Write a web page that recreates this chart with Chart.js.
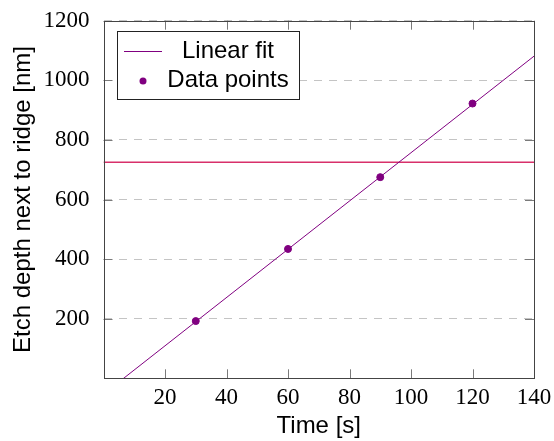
<!DOCTYPE html>
<html>
<head>
<meta charset="utf-8">
<script src="https://cdn.jsdelivr.net/npm/chart.js@4"></script>
<style>
  html, body { margin: 0; padding: 0; background: #fff; }
  #wrap { width: 554px; height: 441px; }
</style>
</head>
<body>
<div id="wrap"><canvas id="c" width="554" height="441"></canvas></div>
<script>
// ---- Data ----
const pointTimes = [30, 60, 90, 120];
const pointDepths = [192, 434, 675, 922];
const fitTimes = [0, 140];
const fitDepths = [-53, 1081];
const refTimes = [0, 140];
const refDepths = [725, 725];
const xTicks = [20, 40, 60, 80, 100, 120, 140];
const yTicks = [200, 400, 600, 800, 1000, 1200];
const seriesLabels = ['Linear fit', 'Data points'];

const PURPLE = '#800080';
const CRIMSON = '#d8306a';
const SANS = '"Liberation Sans", Arial, sans-serif';
const SERIF = '"Liberation Serif", "Times New Roman", serif';

const zip = (xs, ys) => xs.map((x, i) => ({x, y: ys[i]}));

// Box, inward ticks and legend drawn with the library's scales
const framePlugin = {
  id: 'frame',
  beforeDatasetsDraw(chart) {
    const {ctx, chartArea: a, scales: {x, y}} = chart;
    ctx.save();
    ctx.strokeStyle = '#7a7a7a';
    ctx.lineWidth = 1;
    const L = 9;
    ctx.beginPath();
    xTicks.forEach(v => {
      const px = Math.round(x.getPixelForValue(v)) + 0.5;
      ctx.moveTo(px, a.bottom); ctx.lineTo(px, a.bottom - L);
      ctx.moveTo(px, a.top); ctx.lineTo(px, a.top + L);
    });
    yTicks.forEach(v => {
      const py = Math.round(y.getPixelForValue(v)) + 0.5;
      ctx.moveTo(a.left, py); ctx.lineTo(a.left + L, py);
      ctx.moveTo(a.right, py); ctx.lineTo(a.right - L, py);
    });
    ctx.stroke();
    ctx.restore();
  },
  afterDraw(chart) {
    const {ctx, chartArea: a} = chart;
    ctx.save();
    ctx.strokeStyle = '#444';
    ctx.lineWidth = 1;
    ctx.strokeRect(Math.round(a.left) + 0.5, Math.round(a.top) + 0.5,
                   Math.round(a.right - a.left) - 1, Math.round(a.bottom - a.top) - 1);
    // legend
    const bx = 117.5, by = 31.5, bw = 182, bh = 68;
    ctx.fillStyle = '#fff';
    ctx.fillRect(bx, by, bw, bh);
    ctx.strokeStyle = '#222';
    ctx.strokeRect(bx, by, bw, bh);
    const ds = chart.data.datasets;
    ctx.strokeStyle = ds[0].borderColor;
    ctx.lineWidth = 1;
    ctx.beginPath(); ctx.moveTo(124, 51.5); ctx.lineTo(162, 51.5); ctx.stroke();
    ctx.fillStyle = ds[1].backgroundColor;
    ctx.beginPath(); ctx.arc(143, 81, 3.5, 0, Math.PI * 2); ctx.fill();
    ctx.fillStyle = '#000';
    ctx.font = '24px ' + SANS;
    ctx.textAlign = 'center';
    ctx.textBaseline = 'middle';
    ctx.fillText(ds[0].label, 228, 51);
    ctx.fillText(ds[1].label, 228, 80);
    ctx.restore();
  }
};

new Chart(document.getElementById('c'), {
  type: 'scatter',
  data: {
    datasets: [
      {
        label: seriesLabels[0],
        type: 'line',
        data: zip(fitTimes, fitDepths),
        borderColor: PURPLE,
        backgroundColor: PURPLE,
        borderWidth: 1,
        pointRadius: 0,
        fill: false,
        order: 2
      },
      {
        label: seriesLabels[1],
        data: zip(pointTimes, pointDepths),
        borderColor: PURPLE,
        backgroundColor: PURPLE,
        pointRadius: 3.5,
        pointHoverRadius: 3.5,
        order: 1
      },
      {
        label: 'ref',
        type: 'line',
        data: zip(refTimes, refDepths),
        borderColor: CRIMSON,
        borderWidth: 1.3,
        pointRadius: 0,
        fill: false,
        order: 3
      }
    ]
  },
  plugins: [framePlugin],
  options: {
    responsive: false,
    animation: false,
    events: [],
    layout: { padding: { top: 20.7, right: 20, left: 0, bottom: 0 } },
    plugins: { legend: { display: false }, tooltip: { enabled: false } },
    scales: {
      x: {
        type: 'linear',
        min: 0, max: 140,
        afterFit(s) { s.height = 62.7; s.paddingLeft = 0; s.paddingRight = 0; },
        afterBuildTicks(s) { s.ticks = xTicks.map(v => ({value: v})); },
        grid: { display: false, drawTicks: false },
        border: { display: false },
        ticks: { color: '#000', font: { family: SERIF, size: 23 }, padding: 6, maxRotation: 0,
                 callback: v => String(v) },
        title: { display: true, text: 'Time [s]', color: '#000', font: { family: SANS, size: 24 }, padding: { top: 0, bottom: 0 } }
      },
      y: {
        type: 'linear',
        min: 0, max: 1200,
        afterFit(s) { s.width = 103.5; s.paddingTop = 0; s.paddingBottom = 0; },
        afterBuildTicks(s) { s.ticks = yTicks.map(v => ({value: v})); },
        grid: { color: '#c4c4c4', lineWidth: 1, drawTicks: false },
        border: { display: false, dash: [8, 7] },
        ticks: { color: '#000', font: { family: SERIF, size: 23 }, padding: 14,
                 callback: v => String(v) },
        title: { display: true, text: 'Etch depth next to ridge [nm]', color: '#000', font: { family: SANS, size: 24 }, padding: { top: 9, bottom: 0 } }
      }
    }
  }
});
</script>
</body>
</html>
